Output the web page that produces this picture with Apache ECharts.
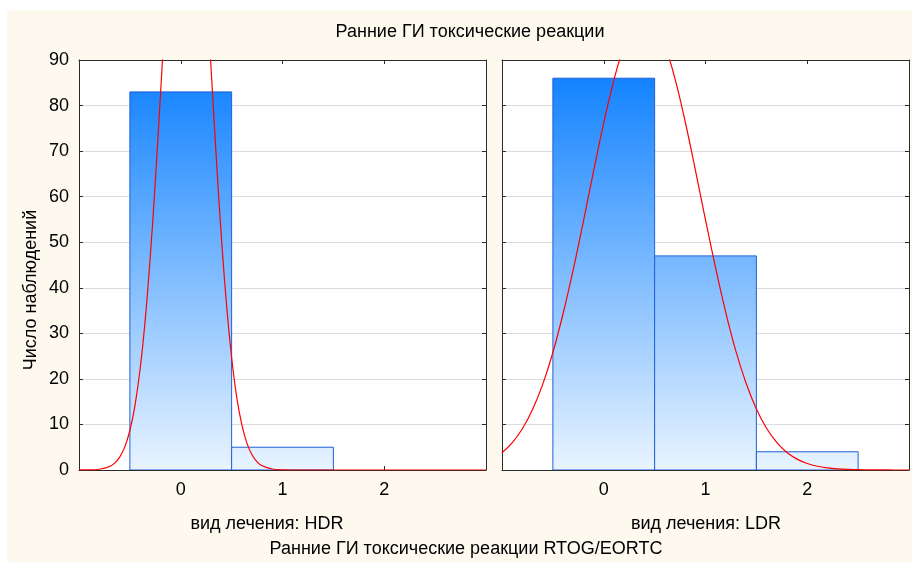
<!DOCTYPE html>
<html>
<head>
<meta charset="utf-8">
<script src="https://cdn.jsdelivr.net/npm/echarts@6/dist/echarts.min.js"></script>
<style>
html,body{margin:0;padding:0;background:#ffffff;}
#bg{position:absolute;left:7px;top:10px;width:905px;height:552px;background:#FDF9EF;}
#c{position:absolute;left:0;top:0;width:912px;height:562px;}
</style>
</head>
<body>
<div id="bg"></div>
<div id="c"></div>
<script>
// ---- data ----
const bins = [0, 1, 2];
const hdrCounts = [83, 5, 0];
const ldrCounts = [86, 47, 4];
const yTickValues = [0, 10, 20, 30, 40, 50, 60, 70, 80, 90];
const xTickLabels = ['0', '1', '2'];

const hdrCurveX = [-1, -0.9, -0.8, -0.7, -0.65, -0.6, -0.55, -0.5, -0.45, -0.4, -0.35, -0.3, -0.25, -0.2, -0.15, -0.1, -0.05, 0, 0.05, 0.1, 0.15, 0.2, 0.25, 0.3, 0.35, 0.4, 0.45, 0.5, 0.55, 0.6, 0.65, 0.7, 0.75, 0.8, 0.9, 1.0, 1.2, 1.5, 2, 2.5, 3];
const hdrCurveY = [0.01, 0.03, 0.17, 0.77, 1.51, 2.84, 5.08, 8.67, 14.15, 22.05, 32.8, 46.7, 63.3, 82.1, 101.6, 120.2, 135.7, 146.3, 150.6, 148.1, 139.1, 124.8, 106.8, 87.4, 68.3, 50.9, 36.3, 24.7, 16.0, 9.95, 5.9, 3.34, 1.8, 0.93, 0.22, 0.04, 0, 0, 0, 0, 0];

const ldrCurveX = [-1, -0.9, -0.8, -0.7, -0.6, -0.5, -0.4, -0.3, -0.2, -0.1, 0, 0.1, 0.2, 0.3, 0.4, 0.5, 0.6, 0.7, 0.8, 0.9, 1.0, 1.1, 1.2, 1.3, 1.4, 1.5, 1.6, 1.7, 1.8, 1.9, 2.0, 2.1, 2.2, 2.3, 2.4, 2.5, 2.6, 2.7, 2.8, 2.9, 3.0];
const ldrCurveY = [3.80, 5.96, 9.05, 13.27, 18.8, 25.8, 34.3, 44.0, 54.6, 65.6, 76.2, 85.6, 93.1, 97.9, 99.6, 98.0, 93.3, 85.9, 76.5, 65.9, 54.9, 44.3, 34.5, 26.0, 19.0, 13.4, 9.16, 6.05, 3.86, 2.39, 1.43, 0.82, 0.46, 0.25, 0.13, 0.07, 0.03, 0.02, 0.01, 0, 0];

const chartTitle = 'Ранние ГИ токсические реакции';
const yAxisTitle = 'Число наблюдений';
const hdrLabel = 'вид лечения: HDR';
const ldrLabel = 'вид лечения: LDR';
const xAxisTitle = 'Ранние ГИ токсические реакции RTOG/EORTC';

// ---- chart ----
const FONT = '"Liberation Sans", Arial, sans-serif';
const FS = 18;
const yMin = yTickValues[0], yMax = yTickValues[yTickValues.length - 1];
const yStep = yTickValues[1] - yTickValues[0];
const binWidth = bins[1] - bins[0];
const xMin = bins[0] - binWidth, xMax = bins[bins.length - 1] + binWidth;

const lineCol = '#2b2b2b';

function axes(gi, showY) {
  const xBase = {
    gridIndex: gi, type: 'value', min: xMin, max: xMax, interval: binWidth,
    axisLine: {show: true, onZero: false, lineStyle: {color: lineCol, width: 1}},
    axisTick: {show: true, inside: true, length: 4, lineStyle: {color: lineCol}},
    splitLine: {show: false}
  };
  const yBase = {
    gridIndex: gi, type: 'value', min: yMin, max: yMax, interval: yStep,
    axisLine: {show: true, onZero: false, lineStyle: {color: lineCol, width: 1}},
    axisTick: {show: true, inside: true, length: 4, lineStyle: {color: lineCol}}
  };
  return {
    x: [
      Object.assign({}, xBase, {position: 'bottom',
        axisLabel: {show: true, showMinLabel: false, showMaxLabel: false, fontSize: FS, color: '#000', fontFamily: FONT, margin: 11,
          formatter: v => { const i = bins.indexOf(v); return i >= 0 ? xTickLabels[i] : ''; }}}),
      Object.assign({}, xBase, {position: 'top', axisLabel: {show: false}})
    ],
    y: [
      Object.assign({}, yBase, {position: 'left',
        axisLabel: {show: showY, fontSize: FS, color: '#000', fontFamily: FONT, margin: 10},
        splitLine: {show: true, lineStyle: {color: '#DCDCDC', width: 1}}}),
      Object.assign({}, yBase, {position: 'right', axisLabel: {show: false}, splitLine: {show: false}})
    ]
  };
}

const a0 = axes(0, true), a1 = axes(1, false);

function histSeries(counts, xi, yi) {
  return {
    type: 'custom',
    xAxisIndex: xi, yAxisIndex: yi,
    clip: true,
    z: 2,
    data: bins.map((b, i) => [b, counts[i]]),
    renderItem: function (params, api) {
      const x = api.value(0), v = api.value(1);
      if (!v) return null;
      const p0 = api.coord([x - binWidth / 2, v]);
      const p1 = api.coord([x + binWidth / 2, yMin]);
      const top = api.coord([x, yMax])[1];
      return {
        type: 'rect',
        shape: {x: p0[0], y: p0[1], width: p1[0] - p0[0], height: p1[1] - p0[1]},
        style: {
          fill: {type: 'linear', x: 0, y: top, x2: 0, y2: p1[1], global: true,
            colorStops: [{offset: 0, color: '#0A7EFF'}, {offset: 1, color: '#E9F4FF'}]},
          stroke: '#1F5FD8', lineWidth: 1
        }
      };
    }
  };
}

function curveSeries(xs, ys, xi, yi) {
  return {
    type: 'line', xAxisIndex: xi, yAxisIndex: yi,
    data: xs.map((x, i) => [x, ys[i]]),
    showSymbol: false, symbol: 'none', smooth: 0.4, clip: true, z: 3,
    lineStyle: {color: '#FF0000', width: 1.2},
    silent: true, animation: false
  };
}

const chart = echarts.init(document.getElementById('c'), null, {renderer: 'canvas'});
const txt = (x, y, text, rot) => ({type: 'text', x: x, y: y, rotation: rot || 0,
  style: {text: text, font: FS + 'px ' + FONT, fill: '#000', textAlign: 'center', textVerticalAlign: 'middle'}});
chart.setOption({
  animation: false,
  backgroundColor: 'transparent',
  grid: [
    {left: 79, top: 60, width: 407, height: 410, show: true, backgroundColor: '#ffffff', borderWidth: 0},
    {left: 502, top: 60, width: 407, height: 410, show: true, backgroundColor: '#ffffff', borderWidth: 0}
  ],
  xAxis: [a0.x[0], a0.x[1], a1.x[0], a1.x[1]],
  yAxis: [a0.y[0], a0.y[1], a1.y[0], a1.y[1]],
  series: [
    histSeries(hdrCounts, 0, 0),
    histSeries(ldrCounts, 2, 2),
    curveSeries(hdrCurveX, hdrCurveY, 0, 0),
    curveSeries(ldrCurveX, ldrCurveY, 2, 2)
  ],
  graphic: [
    txt(470, 32, chartTitle),
    txt(31, 290, yAxisTitle, Math.PI / 2),
    txt(267, 524, hdrLabel),
    txt(706, 524, ldrLabel),
    txt(466, 549, xAxisTitle)
  ]
});
</script>
</body>
</html>
